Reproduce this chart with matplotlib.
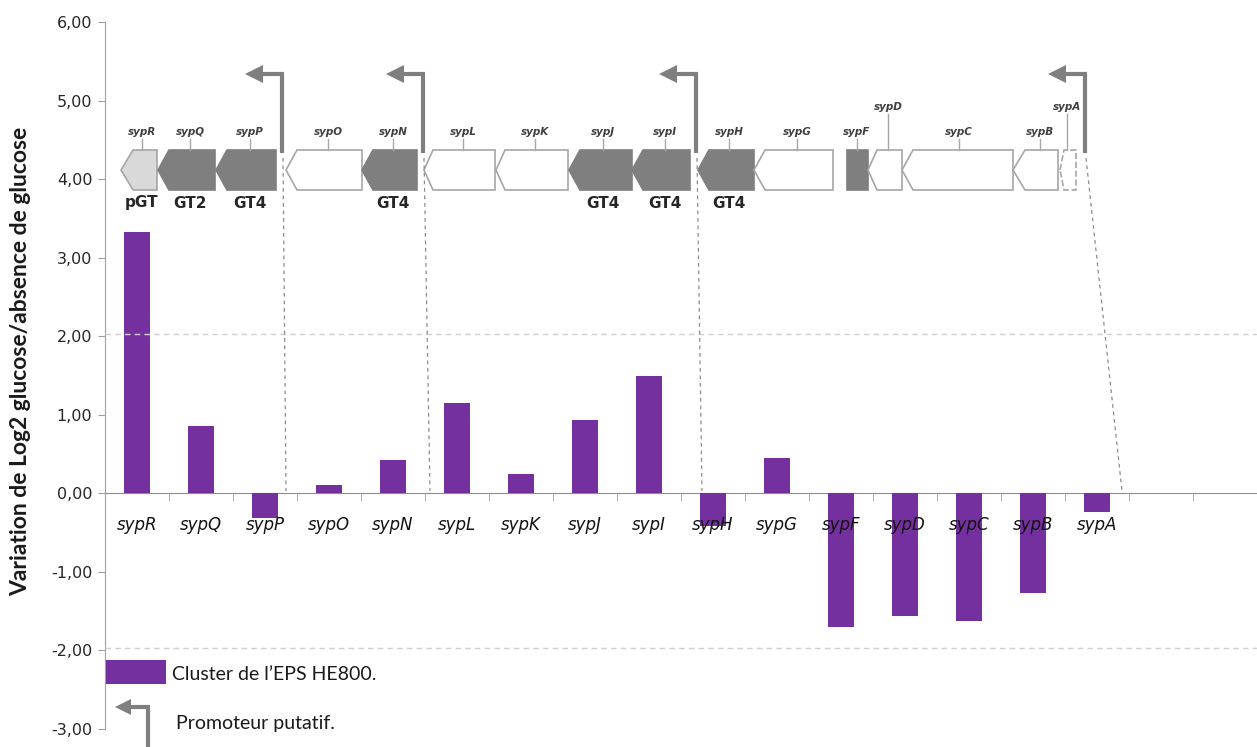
import matplotlib
matplotlib.use('Agg')
import matplotlib.pyplot as plt
from matplotlib.patches import Polygon, Rectangle
import numpy as np

# donnees
genes = ['sypR', 'sypQ', 'sypP', 'sypO', 'sypN', 'sypL', 'sypK', 'sypJ',
         'sypI', 'sypH', 'sypG', 'sypF', 'sypD', 'sypC', 'sypB', 'sypA']
variation = [3.33, 0.86, -0.32, 0.10, 0.42, 1.15, 0.24, 0.93,
             1.49, -0.42, 0.45, -1.70, -1.56, -1.63, -1.27, -0.24]
n_cat = 18  # deux categories vides a droite
y_ticks = [-3, -2, -1, 0, 1, 2, 3, 4, 5, 6]

violet = '#7530A0'
gris_fonce = '#7f7f7f'
gris_bord = '#a6a6a6'

W, H = 1257, 747
fig = plt.figure(figsize=(W / 100, H / 100), dpi=100)

# axe principal (en pixels : x0=104.8, y6=22, y-3=729)
larg_cat = 64.47
x0_px = 104.8
ax = fig.add_axes([x0_px / W, (H - 729) / H, 1 - x0_px / W, (729 - 22) / H])
x = np.arange(len(genes))
ax.bar(x, variation, 0.4, color=violet, zorder=2)
ax.set_axisbelow(False)

ax.set_ylim(-3, 6)
ax.set_xlim(-0.5, -0.5 + (W - x0_px) / larg_cat)
ax.set_yticks(y_ticks)
ax.set_yticklabels(['{:.2f}'.format(v).replace('.', ',') for v in y_ticks],
                   fontsize=11.5, color='#262626')
ax.set_xticks(x)
ax.set_xticks(np.arange(-0.5, n_cat, 1), minor=True)
ax.tick_params(axis='x', which='major', length=0, pad=16)
ax.tick_params(axis='x', which='minor', length=6, color='#a0a0a0', direction='out')
ax.tick_params(axis='y', length=5, color='#a0a0a0', pad=4)
ax.set_xticklabels(genes)

for s in ['top', 'right']:
    ax.spines[s].set_visible(False)
ax.spines['bottom'].set_position(('data', 0))
ax.spines['bottom'].set_color('#8c8c8c')
ax.spines['bottom'].set_zorder(1.8)
ax.spines['left'].set_color('#a0a0a0')

# lignes pointillees horizontales
for yy in [2.03, -1.97]:
    ax.axhline(yy, color='#d0d0d0', lw=1, ls=(0, (4, 3)), zorder=3)

ax.set_ylabel('Variation de Log2 glucose/absence de glucose', fontsize=16.5,
              fontweight='bold', family='Lato', color='#1a1a1a')
ax.yaxis.set_label_coords(-0.064, 0.52)

# schema du cluster (coordonnees en pixels)
ov = fig.add_axes([0, 0, 1, 1], zorder=5)
ov.set_xlim(0, W)
ov.set_ylim(H, 0)
ov.axis('off')
ov.patch.set_alpha(0)

haut, bas = 150, 190
mil = (haut + bas) / 2
# nom, pointe, base tete, fin, style, x etiquette, etiquette haute, fonction
carte = [
    ('sypR', 121, 133, 157, 'clair', 142, False, 'pGT'),
    ('sypQ', 158, 169, 215, 'fonce', 190, False, 'GT2'),
    ('sypP', 216, 227, 276, 'fonce', 250, False, 'GT4'),
    ('sypO', 286, 297, 362, 'blanc', 328, False, ''),
    ('sypN', 362, 373, 417, 'fonce', 393, False, 'GT4'),
    ('sypL', 424, 433, 495, 'blanc', 463, False, ''),
    ('sypK', 496, 505, 568, 'blanc', 535, False, ''),
    ('sypJ', 569, 580, 632, 'fonce', 603, False, 'GT4'),
    ('sypI', 632, 643, 690, 'fonce', 665, False, 'GT4'),
    ('sypH', 698, 709, 754, 'fonce', 729, False, 'GT4'),
    ('sypG', 754, 765, 833, 'blanc', 797, False, ''),
    ('sypF', 847, 847, 868, 'fonce', 857, False, ''),
    ('sypD', 868, 877, 902, 'blanc', 888, True, ''),
    ('sypC', 902, 913, 1013, 'blanc', 959, False, ''),
    ('sypB', 1013, 1025, 1058, 'blanc', 1040, False, ''),
    ('sypA', 1060, 1064, 1076, 'pointille', 1067, True, ''),
]
couleurs = {'clair': ('#d9d9d9', gris_bord), 'fonce': (gris_fonce, gris_fonce),
            'blanc': ('white', gris_bord), 'pointille': ('white', gris_bord)}
for nom, xp, xh, xf, style, xl, hautlab, fonc in carte:
    fc, ec = couleurs[style]
    pts = [(xp, mil), (xh, haut), (xf, haut), (xf, bas), (xh, bas)]
    ov.add_patch(Polygon(pts, closed=True, fc=fc, ec=ec, lw=1.2,
                         ls='--' if style == 'pointille' else '-'))
    ly = 107 if hautlab else 132
    ov.plot([xl, xl], [ly + 7, haut], color=gris_bord, lw=1)
    ov.text(xl, ly, nom, fontsize=7.5, style='italic', fontweight='bold',
            color='#404040', ha='center', va='center')
    if fonc:
        ov.text(xl, 203, fonc, fontsize=11, fontweight='bold',
                color='#262626', ha='center', va='center')

# promoteurs
prom_x = [282, 423, 696, 1085]
prom_bas = [286, 430, 702, 1122]
fleche_y = 74
for px, pb in zip(prom_x, prom_bas):
    ov.plot([px, px], [haut + 3, fleche_y], color=gris_fonce, lw=3,
            solid_capstyle='butt')
    ov.plot([px + 1.5, px - 20], [fleche_y, fleche_y], color=gris_fonce, lw=3,
            solid_capstyle='butt')
    ov.add_patch(Polygon([(px - 37, fleche_y), (px - 19, fleche_y - 9),
                          (px - 19, fleche_y + 9)], closed=True,
                         fc=gris_fonce, ec='none'))
    ov.plot([px + 1, pb], [haut + 8, 491], color='#8c8c8c', lw=0.9,
            ls=(0, (3, 3)))

# legende
ov.add_patch(Rectangle((106, 660), 60, 24, fc=violet, ec='none'))
ov.text(172, 674, 'Cluster de l\u2019EPS HE800.', fontsize=14, family='Lato',
        color='#1a1a1a', va='center')
ov.plot([148, 148], [H, 707], color=gris_fonce, lw=3, solid_capstyle='butt')
ov.plot([149.5, 130], [707, 707], color=gris_fonce, lw=3, solid_capstyle='butt')
ov.add_patch(Polygon([(115, 707), (131, 699), (131, 715)], closed=True,
                     fc=gris_fonce, ec='none'))
ov.text(176, 724, 'Promoteur putatif.', fontsize=14, family='Lato',
        color='#1a1a1a', va='center')

# etiquettes des categories en italique (appliquees en dernier)
plt.setp(ax.get_xticklabels(), fontstyle='italic', fontsize=12,
         family='DejaVu Sans', color='#111111')

fig.savefig('out.png', dpi=100)
